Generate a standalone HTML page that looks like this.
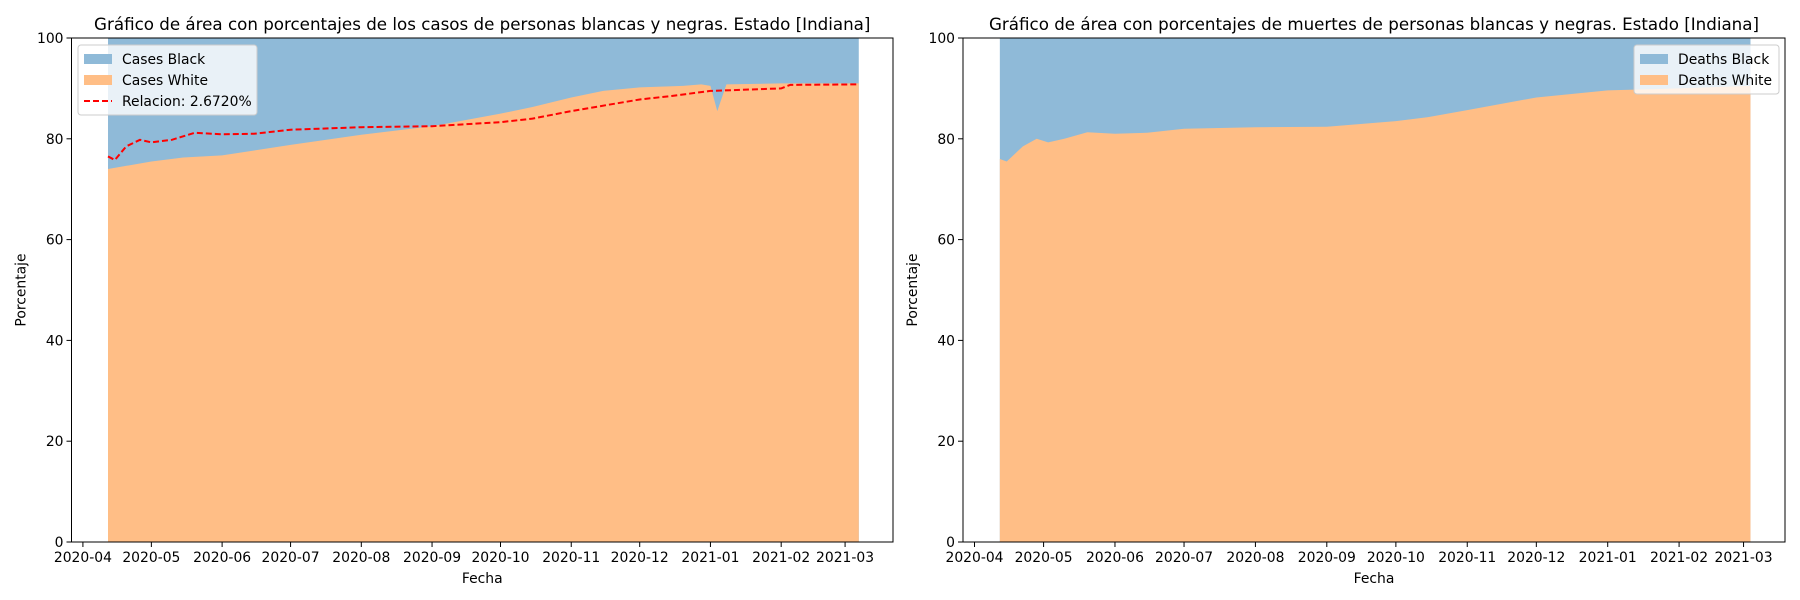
<!DOCTYPE html>
<html><head><meta charset="utf-8"><style>body{margin:0;background:#fff}svg{display:block;font-family:"DejaVu Sans","Liberation Sans",sans-serif}</style></head>
<body>
<svg id="c" width="1800" height="600" viewBox="0 0 1800 600" xmlns="http://www.w3.org/2000/svg"></svg>
<script>
const caseDates=["2020-04-12","2020-05-01","2020-05-15","2020-06-01","2020-07-01","2020-08-01","2020-09-01","2020-10-01","2020-10-15","2020-11-01","2020-11-15","2020-12-01","2020-12-20","2020-12-28","2021-01-01","2021-01-04","2021-01-08","2021-02-01","2021-03-07"];
const casesWhite=[74,75.5,76.3,76.7,78.8,80.8,82.5,85,86.3,88.2,89.5,90.2,90.5,90.8,90.5,85.5,90.8,91,91];
const relDates=["2020-04-12","2020-04-15","2020-04-20","2020-04-26","2020-05-01","2020-05-10","2020-05-20","2020-06-01","2020-06-15","2020-07-01","2020-08-01","2020-09-01","2020-10-01","2020-10-15","2020-11-01","2020-12-01","2020-12-15","2021-01-01","2021-02-01","2021-02-05","2021-03-07"];
const relValues=[76.5,75.8,78.5,79.8,79.3,79.8,81.2,80.9,81,81.8,82.3,82.5,83.3,84,85.5,87.8,88.5,89.5,90,90.7,90.8];
const deathDates=["2020-04-12","2020-04-15","2020-04-22","2020-04-28","2020-05-03","2020-05-10","2020-05-20","2020-06-01","2020-06-15","2020-07-01","2020-08-01","2020-09-01","2020-10-01","2020-10-15","2020-11-01","2020-12-01","2021-01-01","2021-02-01","2021-03-04"];
const deathsWhite=[76,75.5,78.5,80,79.3,80,81.3,81,81.2,82,82.3,82.4,83.5,84.3,85.7,88.2,89.6,90,90.5];
const xTicks=["2020-04","2020-05","2020-06","2020-07","2020-08","2020-09","2020-10","2020-11","2020-12","2021-01","2021-02","2021-03"];
const yTicks=[0,20,40,60,80,100];

const svg=document.getElementById('c');const NS="http://www.w3.org/2000/svg";
function el(t,a,p){const e=document.createElementNS(NS,t);for(const k in a)e.setAttribute(k,a[k]);(p||svg).appendChild(e);return e;}
const day=s=>Date.parse(s.length==7?s+"-01":s)/864e5;
const Y0=38,Y1=542;
function panel(x0,x1,xmin,xmax,title,name){
  const g=el('g',{});
  
  
  const X=d=>x0+(day(d)-xmin)/(xmax-xmin)*(x1-x0);
  const Yv=v=>Y1-v/100*(Y1-Y0);
  return {g,X,Yv,x0,x1,title};
}
function axes(p){
  const {g,X,Yv,x0,x1}=p;
  const fr=el('rect',{x:x0,y:Y0,width:x1-x0,height:Y1-Y0,fill:'none',stroke:'#000','stroke-width':1},g);
  
  xTicks.forEach(t=>{const x=X(t);el('line',{x1:x,x2:x,y1:Y1,y2:Y1+5,stroke:'#000'},g);
    const tx=el('text',{x:x,y:Y1+20,'text-anchor':'middle','font-size':13.9},g);tx.textContent=t;
    });
  yTicks.forEach(v=>{const y=Yv(v);el('line',{x1:x0-5,x2:x0,y1:y,y2:y,stroke:'#000'},g);
    const tx=el('text',{x:x0-8,y:y+5,'text-anchor':'end','font-size':13.9},g);tx.textContent=v;
    });
  const t=el('text',{x:(x0+x1)/2,y:30,'text-anchor':'middle','font-size':16.7},g);t.textContent=p.title;
  
  const xl=el('text',{x:(x0+x1)/2,y:583,'text-anchor':'middle','font-size':13.9},g);xl.textContent='Fecha';
  
  const yl=el('text',{x:0,y:0,'text-anchor':'middle','font-size':13.9,transform:`translate(${x0-46},${(Y0+Y1)/2}) rotate(-90)`},g);yl.textContent='Porcentaje';
  
}
function areas(p,dates,vals,pref){
  const {g,X,Yv}=p;
  const first=X(dates[0]),last=X(dates[dates.length-1]);
  const b=el('rect',{x:first,y:Y0,width:last-first,height:Y1-Y0,fill:'#8fbad8'},g);
  
  let d=`M${first},${Y1}`;dates.forEach((t,i)=>d+=`L${X(t)},${Yv(vals[i])}`);d+=`L${last},${Y1}Z`;
  const w=el('path',{d,fill:'#ffbe86'},g);
  
}
function legend(g,x,y,items,w){
  const h=items.length*21+7;
  const lg=el('g',{},g);
  el('rect',{x,y,width:w,height:h,rx:3,fill:'rgba(255,255,255,0.8)',stroke:'#ccc'},lg);
  items.forEach((it,i)=>{const yy=y+14+i*21;
    const e=el('g',{},lg);
    if(it.type=='line')el('line',{x1:x+6,x2:x+34,y1:yy,y2:yy,stroke:'red','stroke-width':2,'stroke-dasharray':'6,3'},e);
    else el('rect',{x:x+6,y:yy-5,width:28,height:10,fill:it.color},e);
    const t=el('text',{x:x+44,y:yy+5,'font-size':13.9},e);t.textContent=it.label;});
}
const xmin=day("2020-03-27"),xmax=day("2021-03-22");
const L=panel(71.5,893,xmin,xmax,'Gráfico de área con porcentajes de los casos de personas blancas y negras. Estado [Indiana]','cases-chart');
areas(L,caseDates,casesWhite,'cases');
let d='';relDates.forEach((t,i)=>d+=(i?'L':'M')+L.X(t)+','+L.Yv(relValues[i]));
const rl=el('path',{d,fill:'none',stroke:'red','stroke-width':2,'stroke-dasharray':'6,3'},L.g);

axes(L);
legend(L.g,78,45,[{label:'Cases Black',color:'#8fbad8'},{label:'Cases White',color:'#ffbe86'},{label:'Relacion: 2.6720%',type:'line'}],179);
const R=panel(963,1785,day("2020-03-27"),day("2021-03-19"),'Gráfico de área con porcentajes de muertes de personas blancas y negras. Estado [Indiana]','deaths-chart');
areas(R,deathDates,deathsWhite,'deaths');
axes(R);
legend(R.g,1634,45,[{label:'Deaths Black',color:'#8fbad8'},{label:'Deaths White',color:'#ffbe86'}],145);
</script>
</body></html>
